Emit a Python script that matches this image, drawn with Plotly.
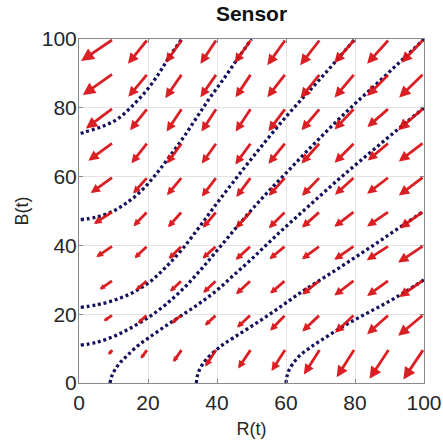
import math
import plotly.graph_objects as go

# Grid of arrow tails
grid_x = [10, 20, 30, 40, 50, 60, 70, 80, 90, 100]
grid_y = [10, 20, 30, 40, 50, 60, 70, 80, 90, 100]

# Arrow components u (dR) per row y=10..100, columns x=10..100
u_rows = [
    [-1.5, -2.1, -2.7, -3.4, -3.9, -4.2, -4.8, -5.3, -5.8, -6.0],   # y=10
    [-2.8, -2.9, -3.2, -3.5, -4.2, -4.6, -5.3, -5.8, -6.5, -7.5],   # y=20
    [-4.0, -3.5, -3.6, -4.0, -4.5, -4.6, -5.3, -6.0, -6.5, -7.2],   # y=30
    [-5.0, -3.9, -4.0, -4.2, -4.6, -4.8, -5.4, -6.0, -6.6, -7.5],   # y=40
    [-5.7, -4.2, -4.2, -4.1, -4.6, -5.0, -5.4, -6.0, -6.5, -7.0],   # y=50
    [-6.6, -4.3, -4.5, -4.4, -4.4, -5.0, -5.4, -5.8, -6.5, -7.3],   # y=60
    [-7.3, -4.8, -4.5, -4.4, -4.7, -5.1, -5.5, -5.9, -6.3, -7.3],   # y=70
    [-8.0, -5.2, -4.6, -4.5, -4.6, -5.1, -5.5, -5.9, -6.4, -7.5],   # y=80
    [-8.9, -5.7, -5.0, -4.8, -4.6, -5.4, -5.8, -5.9, -6.5, -7.2],   # y=90
    [-9.4, -5.8, -4.9, -4.8, -4.9, -5.4, -5.9, -6.0, -6.5, -6.6],   # y=100
]
# Arrow components v (dB)
v_rows = [
    [-1.8, -2.9, -3.9, -5.2, -5.8, -6.5, -7.5, -8.3, -8.8, -9.0],   # y=10
    [-2.0, -2.6, -2.7, -3.3, -3.9, -4.8, -5.0, -5.4, -5.8, -6.3],   # y=20
    [-2.8, -3.0, -3.4, -3.8, -4.2, -4.0, -4.3, -4.6, -4.7, -5.0],   # y=30
    [-3.4, -3.7, -3.9, -3.8, -4.2, -4.0, -4.0, -4.2, -4.3, -5.0],   # y=40
    [-3.8, -4.4, -4.7, -4.9, -5.0, -5.0, -4.8, -4.6, -4.5, -5.0],   # y=50
    [-4.8, -4.9, -5.4, -5.8, -5.9, -5.6, -5.6, -5.3, -5.0, -5.5],   # y=60
    [-5.4, -6.1, -6.2, -6.2, -6.5, -6.3, -6.2, -6.0, -5.3, -5.6],   # y=70
    [-6.0, -6.5, -6.9, -6.9, -6.9, -6.8, -6.5, -6.3, -5.6, -6.5],   # y=80
    [-6.3, -6.8, -7.2, -6.9, -6.9, -6.9, -7.2, -7.0, -6.6, -7.0],   # y=90
    [-6.4, -7.2, -6.9, -7.2, -7.0, -7.6, -7.6, -7.0, -7.2, -6.9],   # y=100
]

# Trajectories (dotted)
traj_A_x = [0.5, 1.5, 6.6, 11.4, 16.2, 20.1, 23.5, 25.9, 29.8]
traj_A_y = [72.5, 72.9, 74.5, 76.9, 81.3, 85.7, 90.5, 94.4, 100]
traj_B_x = [0.5, 5, 10, 14, 18, 22, 26, 30, 34, 38, 42, 46, 50]
traj_B_y = [47.5, 48.2, 50, 52.5, 55.8, 60.3, 65.5, 71, 77, 83, 88.5, 94.3, 100]
traj_C_x = [0.5, 5, 10, 15, 20, 25, 30, 35, 40, 45, 50, 55, 60, 65, 70, 75, 80]
traj_C_y = [22, 22.7, 24, 26, 29, 33.5, 39, 45.5, 52.3, 58.8, 65.2, 71.4, 77.4, 83, 88.5, 94.2, 100]
traj_D_x = [0.5, 5, 10, 15, 20, 25, 30, 35, 40, 45, 50, 55, 60, 65, 70, 75, 80, 85, 90, 95, 100]
traj_D_y = [11, 11.8, 13.5, 16, 19, 22.7, 27.2, 32.6, 38.5, 44.5, 50.3, 55.8, 61, 66.3, 71.4, 76.4, 81.2, 85.8, 90.5, 95.2, 100]
traj_E_x = [9, 9.5, 10.5, 12, 14, 17, 20, 25, 30, 35, 40, 45, 50, 55, 60, 65, 70, 75, 80, 85, 90, 95, 100]
traj_E_y = [0, 2, 4, 6, 8, 10.8, 13, 16.5, 19.8, 23.2, 27, 31.5, 36, 40.8, 45.5, 50, 54.5, 59, 63.3, 67.5, 71.7, 75.9, 80]
traj_F_x = [34, 34.3, 35, 36.2, 38, 41, 45, 50, 55, 60, 65, 70, 75, 80, 85, 90, 95, 100]
traj_F_y = [0, 2, 4, 6, 8, 10.6, 13.3, 16.5, 19.8, 23.3, 26.8, 30, 33.2, 36.5, 39.8, 43.2, 46.6, 50]
traj_G_x = [60, 60.3, 61, 62.3, 64, 67, 70, 75, 80, 85, 90, 95, 100]
traj_G_y = [0, 2, 4, 6, 8, 10.3, 12.3, 15.5, 18.4, 21.1, 23.8, 26.8, 30]

trajectories = [
    (traj_A_x, traj_A_y), (traj_B_x, traj_B_y), (traj_C_x, traj_C_y),
    (traj_D_x, traj_D_y), (traj_E_x, traj_E_y), (traj_F_x, traj_F_y),
    (traj_G_x, traj_G_y),
]

tick_vals = [0, 20, 40, 60, 80, 100]
tick_text = ["0", "20", "40", "60", "80", "100"]

RED = "rgba(216,16,20,0.93)"
NAVY = "rgb(20,18,90)"
FONT = "Liberation Sans, Arial, Helvetica, sans-serif"

ML, MR, MT, MB = 79, 19, 39, 62
W, H = 443, 445
PX_PER_UNIT = (W - ML - MR) / 100.0
SHAFT_W = 2.8

fig = go.Figure()

for tx, ty in trajectories:
    fig.add_trace(go.Scatter(
        x=tx, y=ty, mode="lines",
        line=dict(color=NAVY, width=3.3, dash="3px,2.8px", shape="spline"),
        hoverinfo="skip", showlegend=False, cliponaxis=True,
    ))

annotations = []
for j, yy in enumerate(grid_y):
    for i, xx in enumerate(grid_x):
        u = u_rows[j][i]
        v = v_rows[j][i]
        length_px = PX_PER_UNIT * math.hypot(u, v)
        head_px = 0.33 * length_px
        asize = max(0.3, min(0.92, head_px / (5.0 * SHAFT_W)))
        annotations.append(dict(
            x=xx + u, y=yy + v, ax=xx, ay=yy,
            xref="x", yref="y", axref="x", ayref="y",
            showarrow=True, arrowhead=2, arrowsize=asize, arrowwidth=SHAFT_W,
            arrowcolor=RED, text="", standoff=0, startstandoff=0,
        ))

axis_common = dict(
    range=[0, 100], tickvals=tick_vals, ticktext=tick_text,
    showgrid=True, gridcolor="#e3e3e3", gridwidth=1,
    showline=True, linecolor="#8a8a8a", linewidth=1, mirror="ticks",
    ticks="inside", ticklen=4, tickcolor="#8a8a8a",
    tickfont=dict(family=FONT, size=21, color="#262626"),
    zeroline=False, fixedrange=True, automargin=False,
)

fig.update_layout(
    width=W, height=H,
    margin=dict(l=ML, r=MR, t=MT, b=MB),
    paper_bgcolor="white", plot_bgcolor="white",
    title=dict(text="<b>Sensor</b>", x=(ML + (W - ML - MR) / 2) / W, xanchor="center",
               y=1 - 14 / H, yanchor="middle", yref="container", automargin=False,
               font=dict(family=FONT, size=21, color="#111111")),
    xaxis=dict(axis_common, ticklabelstandoff=1,
               title=dict(text="R(t)", standoff=9,
                          font=dict(family=FONT, size=18, color="#262626"))),
    yaxis=dict(axis_common, ticklabelstandoff=-3,
               title=dict(text="B(t)", standoff=8,
                          font=dict(family=FONT, size=18, color="#262626"))),
    annotations=annotations,
    showlegend=False,
)

fig.write_html(
    "out.html",
    config={"displayModeBar": False, "staticPlot": True},
    post_script="document.body.style.margin='0px';document.body.style.overflow='hidden';",
)
